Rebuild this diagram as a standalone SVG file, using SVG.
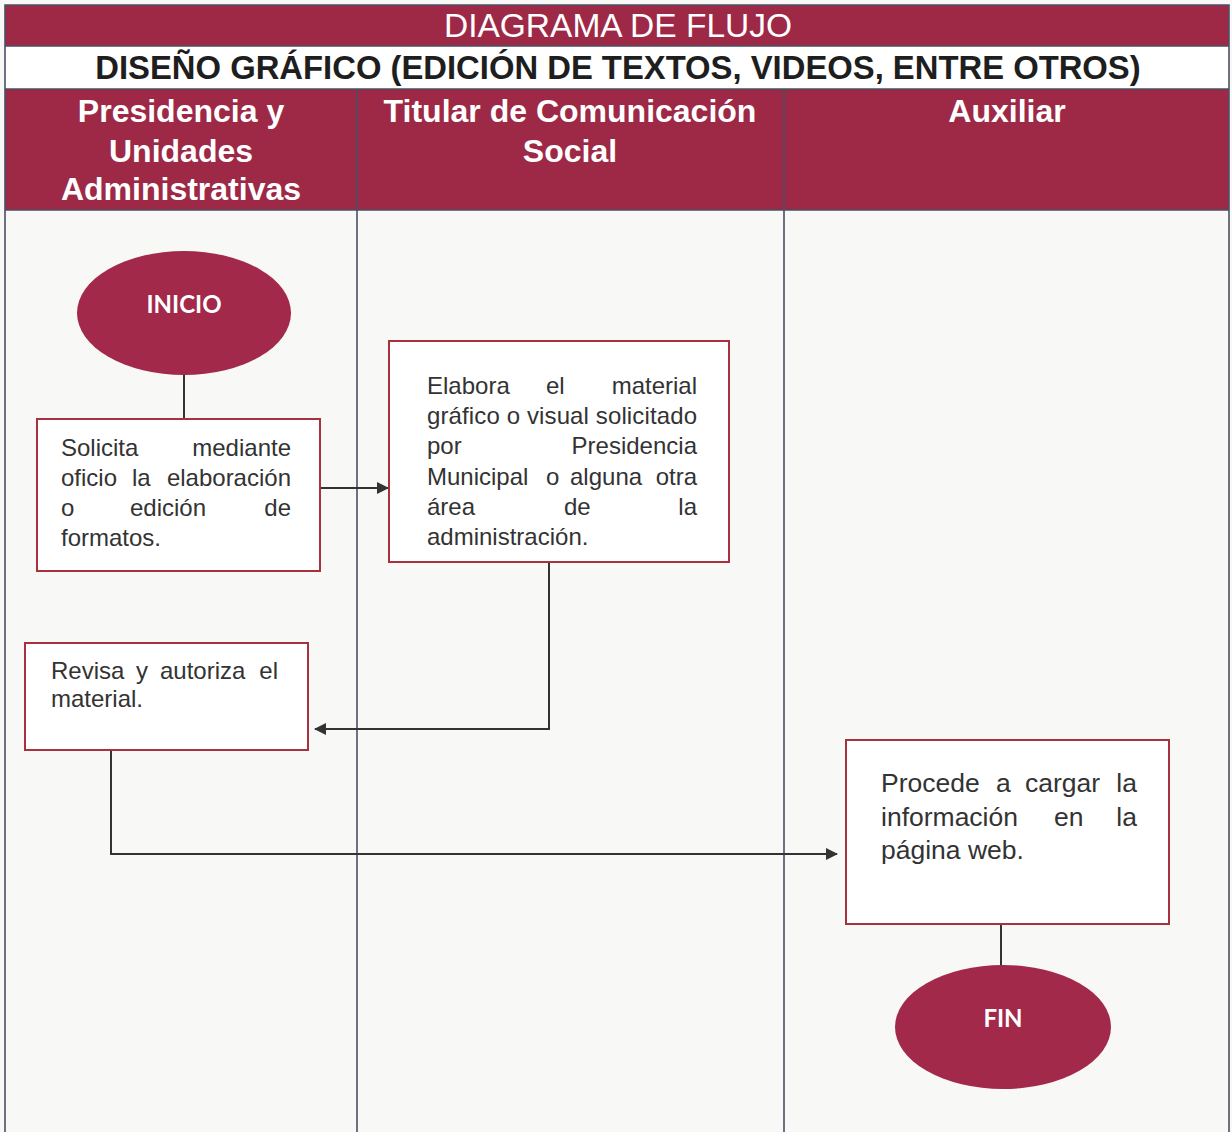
<svg xmlns="http://www.w3.org/2000/svg" width="1232" height="1132" viewBox="0 0 1232 1132">
  <style>
    .band { fill: #9d2947; }
    .frame { stroke: #4b4f63; stroke-width: 1.6; fill: none; }
    .title { font-family: "Liberation Sans", Arial, sans-serif; fill: #ffffff; }
    .sub { font-family: "Liberation Sans", Arial, sans-serif; font-weight: bold; fill: #1e1e1e; }
    .lane { font-family: "Liberation Sans", Arial, sans-serif; font-weight: bold; font-size: 32px; fill: #ffffff; text-anchor: middle; }
    .box { fill: #ffffff; stroke: #a8303f; stroke-width: 2; }
    .term { fill: #a2294a; }
    .termtxt { font-family: Lato, "Open Sans", sans-serif; font-weight: bold; font-size: 24px; fill: #ffffff; text-anchor: middle; }
    .txt { font-family: "Liberation Sans", Arial, sans-serif; font-size: 24px; fill: #333333; }
    .big { font-size: 26.5px; }
    .end { text-anchor: end; }
    .conn { stroke: #333333; stroke-width: 2; fill: none; }
  </style>
  <defs>
    <marker id="arrow" viewBox="0 0 12 12" refX="11" refY="6" markerWidth="12" markerHeight="12" markerUnits="userSpaceOnUse" orient="auto">
      <path d="M0,0 L12,6 L0,12 z" fill="#333333"/>
    </marker>
  </defs>

  <!-- page -->
  <rect x="0" y="0" width="1232" height="1132" fill="#f8f8f6"/>

  <!-- header bands -->
  <g id="header">
    <rect class="band" x="5" y="5" width="1224" height="41"/>
    <rect x="5" y="46" width="1224" height="43" fill="#ffffff"/>
    <rect class="band" x="5" y="89" width="1224" height="121"/>
    <text class="title" x="618" y="37" font-size="33.5" text-anchor="middle">DIAGRAMA DE FLUJO</text>
    <text class="sub" x="618" y="79" font-size="32.8" text-anchor="middle">DISEÑO GRÁFICO (EDICIÓN DE TEXTOS, VIDEOS, ENTRE OTROS)</text>
  </g>

  <!-- lanes -->
  <g id="lanes">
    <text class="lane" x="181" y="122">Presidencia y</text>
    <text class="lane" x="181" y="162">Unidades</text>
    <text class="lane" x="181" y="200">Administrativas</text>
    <text class="lane" x="570" y="122">Titular de Comunicación</text>
    <text class="lane" x="570" y="162">Social</text>
    <text class="lane" x="1007" y="122">Auxiliar</text>
    <path class="frame" d="M5,1132 V5 H1229 V1132 M5,46 H1229 M5,89 H1229 M5,210 H1229 M357,89 V1132 M784,89 V1132"/>
  </g>

  <!-- connectors -->
  <g id="connectors">
    <path class="conn" d="M184,375 V419"/>
    <path class="conn" d="M320,488 H388" marker-end="url(#arrow)"/>
    <path class="conn" d="M549,562 V729 H315" marker-end="url(#arrow)"/>
    <path class="conn" d="M111,750 V854 H837" marker-end="url(#arrow)"/>
    <path class="conn" d="M1001,924 V966"/>
  </g>

  <!-- nodes -->
  <g id="inicio">
    <ellipse class="term" cx="184" cy="313" rx="107" ry="62"/>
    <text class="termtxt" x="184" y="313">INICIO</text>
  </g>

  <g id="solicita">
    <rect class="box" x="37" y="419" width="283" height="152"/>
    <text class="txt" x="61" y="456">Solicita</text>
    <text class="txt end" x="291" y="456">mediante</text>
    <text class="txt" x="61" y="486">oficio</text>
    <text class="txt" x="132" y="486">la</text>
    <text class="txt end" x="291" y="486">elaboración</text>
    <text class="txt" x="61" y="516">o</text>
    <text class="txt" x="130" y="516">edición</text>
    <text class="txt end" x="291" y="516">de</text>
    <text class="txt" x="61" y="546">formatos.</text>
  </g>

  <g id="elabora">
    <rect class="box" x="389" y="341" width="340" height="221"/>
    <text class="txt" x="427" y="394">Elabora</text>
    <text class="txt" x="546" y="394">el</text>
    <text class="txt end" x="697" y="394">material</text>
    <text class="txt" x="427" y="424" textLength="270" lengthAdjust="spacing">gráfico o visual solicitado</text>
    <text class="txt" x="427" y="454">por</text>
    <text class="txt end" x="697" y="454">Presidencia</text>
    <text class="txt" x="427" y="485">Municipal</text>
    <text class="txt" x="546" y="485">o</text>
    <text class="txt" x="570" y="485">alguna</text>
    <text class="txt end" x="697" y="485">otra</text>
    <text class="txt" x="427" y="515">área</text>
    <text class="txt" x="564" y="515">de</text>
    <text class="txt end" x="697" y="515">la</text>
    <text class="txt" x="427" y="545">administración.</text>
  </g>

  <g id="revisa">
    <rect class="box" x="25" y="643" width="283" height="107"/>
    <text class="txt" x="51" y="679">Revisa</text>
    <text class="txt" x="136" y="679">y</text>
    <text class="txt" x="160" y="679">autoriza</text>
    <text class="txt end" x="278" y="679">el</text>
    <text class="txt" x="51" y="707">material.</text>
  </g>

  <g id="procede">
    <rect class="box" x="846" y="740" width="323" height="184"/>
    <text class="txt big" x="881" y="792">Procede</text>
    <text class="txt big" x="996" y="792">a</text>
    <text class="txt big" x="1025" y="792">cargar</text>
    <text class="txt big end" x="1137" y="792">la</text>
    <text class="txt big" x="881" y="826">información</text>
    <text class="txt big" x="1054" y="826">en</text>
    <text class="txt big end" x="1137" y="826">la</text>
    <text class="txt big" x="881" y="859">página web.</text>
  </g>

  <g id="fin">
    <ellipse class="term" cx="1003" cy="1027" rx="108" ry="62"/>
    <text class="termtxt" x="1003" y="1027">FIN</text>
  </g>
</svg>
